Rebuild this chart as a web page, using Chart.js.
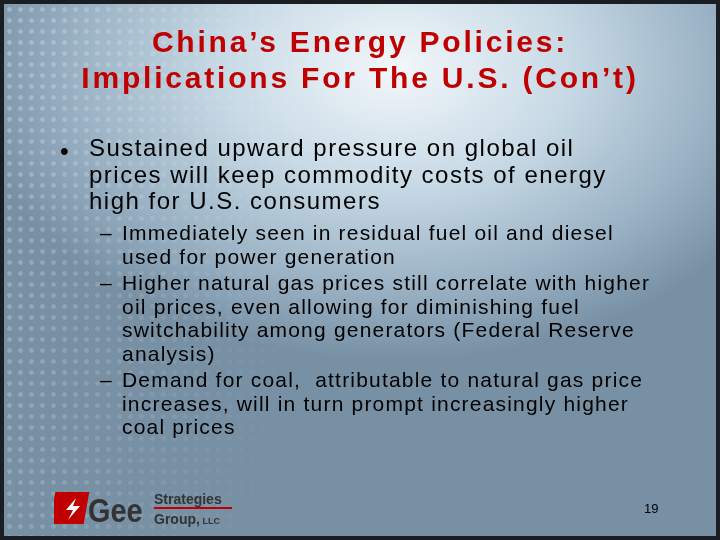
<!DOCTYPE html>
<html><head><meta charset="utf-8">
<script src="https://cdn.jsdelivr.net/npm/chart.js@4.4.0/dist/chart.umd.min.js"></script>
<style>
html,body{margin:0;padding:0;width:720px;height:540px;overflow:hidden;background:#1a1e22}
#slide{position:absolute;left:4px;top:4px;width:712px;height:532px;overflow:hidden;
background:radial-gradient(ellipse 60% 55% at 55% 12%,#f2f7fa 0%,#c8dae6 40%,#9ab2c4 75%,#7890a4 100%);
font-family:"Liberation Sans",Arial,sans-serif;}
#dots{position:absolute;left:0;top:0;width:712px;height:532px;
background-image:radial-gradient(circle,rgba(255,255,255,0.35) 2px,transparent 2.6px);background-size:11px 11px;
-webkit-mask-image:linear-gradient(100deg,rgba(0,0,0,0.8) 0%,rgba(0,0,0,0.3) 25%,transparent 45%);}
#cv{position:absolute;left:0;top:0}
.t{position:absolute;width:712px;text-align:center;color:#c00000;font-weight:bold;font-size:30px;letter-spacing:2.8px;line-height:36px;top:20px;left:0}
.bul{position:absolute;left:56px;top:133px;font-size:25px;color:#000}
.b{position:absolute;left:85px;top:131px;width:540px;font-size:24px;letter-spacing:1.5px;line-height:26.5px;color:#000}
.s{position:absolute;left:118px;top:217px;width:545px;font-size:21px;letter-spacing:1.2px;line-height:23.5px;color:#000}
.s div{margin-bottom:3px}
.dash{position:absolute;left:-22px}
.pn{position:absolute;left:640px;top:497px;font-size:13px}
.logo{position:absolute;left:50px;top:484px}
</style></head><body>
<div id="slide">
<div id="dots"></div>
<canvas id="cv" width="712" height="532"></canvas>
<div class="t">China’s Energy Policies:<br>Implications For The U.S. (Con’t)</div>
<div class="bul">•</div>
<div class="b">Sustained upward pressure on global oil prices will keep commodity costs of energy high for U.S. consumers</div>
<div class="s">
<div style="position:relative"><span class="dash">–</span>Immediately seen in residual fuel oil and diesel used for power generation</div>
<div style="position:relative"><span class="dash">–</span>Higher natural gas prices still correlate with higher oil prices, even allowing for diminishing fuel switchability among generators (Federal Reserve analysis)</div>
<div style="position:relative"><span class="dash">–</span>Demand for coal,&nbsp; attributable to natural gas price increases, will in turn prompt increasingly higher coal prices</div>
</div>
<div class="logo">
<svg width="190" height="40">
<rect x="2" y="4" width="34" height="32" fill="#c00000" transform="skewX(-10)"/>
<path d="M22 10 L12 22 L19 22 L14 32 L26 18 L19 18 Z" fill="#fff"/>
<text x="40" y="34" font-family="Liberation Sans" font-weight="bold" font-size="34" fill="#333" transform="scale(0.85,1)">Gee</text>
<text x="100" y="16" font-family="Liberation Sans" font-weight="bold" font-size="14" fill="#333">Strategies</text>
<line x1="100" y1="20" x2="178" y2="20" stroke="#c00000" stroke-width="2"/>
<text x="100" y="36" font-family="Liberation Sans" font-weight="bold" font-size="14" fill="#333">Group,<tspan font-size="9"> LLC</tspan></text>
</svg></div>
<div class="pn">19</div>
</div>
<script>
const categories = [];
const values = [];
new Chart(document.getElementById('cv'), {
  type: 'bar',
  data: { labels: categories, datasets: [{ data: values }] },
  options: { responsive:false, animation:false, events:[],
    plugins:{legend:{display:false},tooltip:{enabled:false}},
    scales:{x:{display:false},y:{display:false}} }
});
</script>
</body></html>
